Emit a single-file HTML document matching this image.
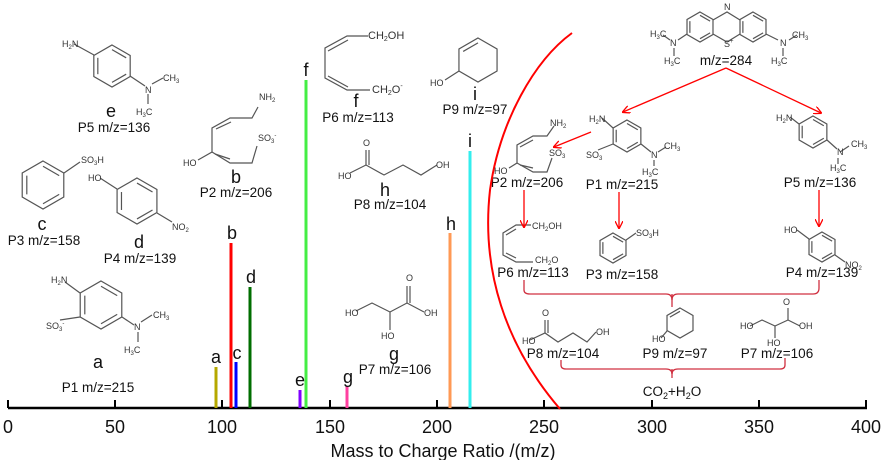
<!DOCTYPE html>
<html><head><meta charset="utf-8"><style>
html,body{margin:0;padding:0;background:#fff}
svg{display:block;font-family:"Liberation Sans",sans-serif}
.s{font-size:9px;fill:#333}
.l{font-size:13.5px;fill:#111}
.b{font-size:18px;fill:#111}
</style></head><body>
<svg width="883" height="460" viewBox="0 0 883 460" xmlns="http://www.w3.org/2000/svg">
<defs>
<g id="hx"><polygon points="0,-20 17.32,-10 17.32,10 0,20 -17.32,10 -17.32,-10" vector-effect="non-scaling-stroke"/>
<line x1="0" y1="-15.6" x2="13.5" y2="-7.8" vector-effect="non-scaling-stroke"/><line x1="13.5" y1="7.8" x2="0" y2="15.6" vector-effect="non-scaling-stroke"/><line x1="-13.5" y1="7.8" x2="-13.5" y2="-7.8" vector-effect="non-scaling-stroke"/></g>
<g id="cy"><polygon points="0,-20 17.32,-10 17.32,10 0,20 -17.32,10 -17.32,-10" vector-effect="non-scaling-stroke"/>
<line x1="0" y1="-15.6" x2="-13.5" y2="-7.8" vector-effect="non-scaling-stroke"/></g>
<marker id="ah" markerWidth="8" markerHeight="8" refX="7" refY="4" orient="auto" markerUnits="userSpaceOnUse"><path d="M0,0 L8,4 L0,8" fill="none" stroke="#f00" stroke-width="1.3"/></marker>
</defs>
<g stroke="#555" stroke-width="1.2" fill="none">
<use href="#hx" transform="translate(112,66) scale(1.05)"/>
<use href="#hx" transform="translate(43,185) scale(1.2)"/>
<use href="#hx" transform="translate(137,201) scale(1.15)"/>
<use href="#hx" transform="translate(101,305) scale(1.2)"/>
<use href="#cy" transform="translate(478,60) scale(1.1)"/>
<use href="#hx" transform="translate(700,27) scale(0.75)"/>
<use href="#hx" transform="translate(753,27) scale(0.75)"/>
<use href="#hx" transform="translate(627,136) scale(0.8)"/>
<use href="#hx" transform="translate(813,132) scale(0.8)"/>
<use href="#hx" transform="translate(613,248) scale(0.75)"/>
<use href="#hx" transform="translate(822,247) scale(0.75)"/>
<use href="#cy" transform="translate(680,323) scale(0.75)"/>
<polyline points="74,44 94,55"/><polyline points="130,76 145,86"/><polyline points="152,84 163,78"/><polyline points="148,94 148,104"/>
<polyline points="64,173 80,162"/>
<polyline points="100,178 117,189"/><polyline points="157,213 172,222"/>
<polyline points="65,282 80,293"/><polyline points="60,320 80,317"/><polyline points="122,317 134,325"/><polyline points="141,322 152,315"/><polyline points="138,332 138,342"/>
<polyline points="198,160 212,152 212,128 230,118 252,118 258,107"/><polyline points="212,152 230,163 252,163 257,146"/><polyline points="216,129 231,122"/><polyline points="215,154 230,159"/>
<polyline points="368,36 347,36 325,48 325,78 347,90 370,90"/><polyline points="348,40 328,51"/><polyline points="328,76 348,87"/>
<polyline points="445,80 459,71"/>
<polyline points="350,173 366,165 384,175 403,165 421,175 437,165"/><polyline points="366,165 366,150"/><polyline points="369,165 369,150"/>
<polyline points="356,311 372,303 390,312 407,303 424,312"/><polyline points="407,303 407,286"/><polyline points="410,303 410,286"/><polyline points="390,312 390,330"/>
<polyline points="713,20 727,12 740,20"/><polyline points="713,34 727,42 740,34"/><polyline points="678,40 687,34"/><polyline points="766,34 778,40"/><polyline points="663,35 670,40"/><polyline points="789,40 797,35"/><polyline points="674,48 674,56"/><polyline points="783,48 783,56"/>
<polyline points="602,118 613,128"/><polyline points="598,150 613,144"/><polyline points="641,144 651,152"/><polyline points="658,152 666,147"/><polyline points="654,160 654,166"/>
<polyline points="509,168 517,163 517,145 533,136 547,136 554,126"/><polyline points="517,163 533,172 547,172 552,158"/><polyline points="520,147 533,140"/><polyline points="520,165 533,168"/>
<polyline points="790,117 799,124"/><polyline points="827,140 837,149"/><polyline points="840,152 849,146"/><polyline points="838,158 838,164"/>
<polyline points="531,225 516,225 503,233 503,255 516,262 533,262"/><polyline points="516,229 506,235"/><polyline points="506,253 516,258"/>
<polyline points="626,240 636,233"/>
<polyline points="797,230 809,239"/><polyline points="835,255 845,262"/>
<polyline points="661,338 667,331"/>
<polyline points="530,340 545,333 558,342 573,333 587,342 596,332"/><polyline points="545,333 545,320"/><polyline points="548,333 548,320"/>
<polyline points="750,326 762,320 775,326 788,320 800,326"/><polyline points="788,320 788,308"/><polyline points="775,326 775,338"/>
</g>
<line x1="8" y1="408" x2="867" y2="408" stroke="#000" stroke-width="2.5"/>
<g stroke="#000" stroke-width="2">
<line x1="8" y1="400" x2="8" y2="408"/><line x1="115" y1="400" x2="115" y2="408"/><line x1="222" y1="400" x2="222" y2="408"/><line x1="330" y1="400" x2="330" y2="408"/><line x1="437" y1="400" x2="437" y2="408"/><line x1="544" y1="400" x2="544" y2="408"/><line x1="652" y1="400" x2="652" y2="408"/><line x1="759" y1="400" x2="759" y2="408"/><line x1="866" y1="400" x2="866" y2="408"/>
</g>
<g class="b" text-anchor="middle">
<text x="8" y="433">0</text><text x="115" y="433">50</text><text x="222" y="433">100</text><text x="330" y="433">150</text><text x="437" y="433">200</text><text x="544" y="433">250</text><text x="652" y="433">300</text><text x="759" y="433">350</text><text x="866" y="433">400</text>
<text x="443" y="457">Mass to Charge Ratio /(m/z)</text>
</g>
<g stroke-width="3">
<line x1="216" y1="367" x2="216" y2="408" stroke="#b5a800"/>
<line x1="231" y1="243" x2="231" y2="408" stroke="#f00"/>
<line x1="236" y1="362" x2="236" y2="408" stroke="#00f"/>
<line x1="250" y1="287" x2="250" y2="408" stroke="#006e00"/>
<line x1="300" y1="390" x2="300" y2="408" stroke="#8000ff"/>
<line x1="306" y1="80" x2="306" y2="408" stroke="#44ee44"/>
<line x1="347" y1="386" x2="347" y2="408" stroke="#ff40a0"/>
<line x1="450" y1="233" x2="450" y2="408" stroke="#ff9955"/>
<line x1="470" y1="151" x2="470" y2="408" stroke="#33eeee"/>
</g>
<g class="b" text-anchor="middle">
<text x="216" y="363">a</text><text x="232" y="239">b</text><text x="237" y="359">c</text><text x="251" y="283">d</text><text x="300" y="386">e</text><text x="306" y="76">f</text><text x="348" y="383">g</text><text x="451" y="230">h</text><text x="470" y="147">i</text>
<text x="111" y="117">e</text><text x="42" y="230">c</text><text x="139" y="248">d</text><text x="98" y="368">a</text><text x="236" y="183">b</text><text x="356" y="107">f</text><text x="475" y="100">i</text><text x="385" y="196">h</text><text x="394" y="360">g</text>
</g>
<g class="l" text-anchor="middle">
<text x="114" y="132">P5 m/z=136</text><text x="44" y="245">P3 m/z=158</text><text x="140" y="263">P4 m/z=139</text><text x="98" y="392">P1 m/z=215</text><text x="236" y="197">P2 m/z=206</text><text x="358" y="122">P6 m/z=113</text><text x="475" y="114">P9 m/z=97</text><text x="390" y="209">P8 m/z=104</text><text x="395" y="374">P7 m/z=106</text>
<text x="726" y="65">m/z=284</text><text x="622" y="189">P1 m/z=215</text><text x="527" y="187">P2 m/z=206</text><text x="820" y="187">P5 m/z=136</text><text x="533" y="277">P6 m/z=113</text><text x="622" y="279">P3 m/z=158</text><text x="822" y="277">P4 m/z=139</text><text x="563" y="358">P8 m/z=104</text><text x="675" y="358">P9 m/z=97</text><text x="777" y="358">P7 m/z=106</text>
<text x="672" y="396">CO<tspan font-size="9" dy="3">2</tspan><tspan dy="-3">+H</tspan><tspan font-size="9" dy="3">2</tspan><tspan dy="-3">O</tspan></text>
</g>
<path d="M572,33 C535,60 500,120 490,190 C481,270 505,345 560,409" stroke="#f00" stroke-width="2" fill="none"/>
<g stroke="#f00" stroke-width="1.3" fill="none" marker-end="url(#ah)">
<line x1="726" y1="68" x2="623" y2="112"/><line x1="726" y1="68" x2="821" y2="113"/>
<line x1="591" y1="132" x2="554" y2="147"/>
<line x1="524" y1="190" x2="524" y2="227"/><line x1="619" y1="192" x2="619" y2="228"/><line x1="819" y1="190" x2="819" y2="226"/>
</g>
<g stroke="#d03040" stroke-width="1.3" fill="none">
<path d="M524,280 L524,290 Q524,294 530,294 L666,294 Q672,294 672,300 Q672,294 678,294 L813,294 Q819,294 819,288 L819,280"/>
<line x1="672" y1="294" x2="672" y2="307"/>
<path d="M561,360 L561,365 Q561,369 566,369 L666,369 Q672,369 672,374 Q672,369 678,369 L780,369 Q785,369 785,365 L785,358"/>
<line x1="672" y1="369" x2="672" y2="378"/>
</g>
<g class="s">
<text x="62" y="47">H<tspan font-size="6" dy="2">2</tspan><tspan dy="-2">N</tspan></text><text x="145" y="93">N</text><text x="163" y="81">CH<tspan font-size="6" dy="2">3</tspan></text><text x="136" y="115">H<tspan font-size="6" dy="2">3</tspan><tspan dy="-2">C</tspan></text>
<text x="81" y="163">SO<tspan font-size="6" dy="2">3</tspan><tspan dy="-2">H</tspan></text>
<text x="88" y="181">HO</text><text x="172" y="230">NO<tspan font-size="6" dy="2">2</tspan></text>
<text x="51" y="283">H<tspan font-size="6" dy="2">2</tspan><tspan dy="-2">N</tspan></text><text x="46" y="329">SO<tspan font-size="6" dy="2">3</tspan><tspan font-size="6" dy="-6">-</tspan></text><text x="134" y="330">N</text><text x="153" y="318">CH<tspan font-size="6" dy="2">3</tspan></text><text x="124" y="353">H<tspan font-size="6" dy="2">3</tspan><tspan dy="-2">C</tspan></text>
<text x="259" y="100">NH<tspan font-size="6" dy="2">2</tspan></text><text x="258" y="141">SO<tspan font-size="6" dy="2">3</tspan><tspan font-size="6" dy="-6">-</tspan></text><text x="183" y="166">HO</text>
<text x="368" y="39" font-size="11">CH<tspan font-size="7" dy="2">2</tspan><tspan dy="-2">OH</tspan></text><text x="372" y="93" font-size="11">CH<tspan font-size="7" dy="2">2</tspan><tspan dy="-2">O</tspan><tspan font-size="7" dy="-5">-</tspan></text>
<text x="430" y="86">HO</text>
<text x="363" y="146">O</text><text x="338" y="179">HO</text><text x="436" y="168">OH</text>
<text x="345" y="316">HO</text><text x="406" y="281">O</text><text x="424" y="316">OH</text><text x="381" y="339">HO</text>
<text x="724" y="10">N</text><text x="724" y="47">S<tspan font-size="6" dy="-4">+</tspan></text><text x="650" y="37">H<tspan font-size="6" dy="2">3</tspan><tspan dy="-2">C</tspan></text><text x="670" y="46">N</text><text x="664" y="64">H<tspan font-size="6" dy="2">3</tspan><tspan dy="-2">C</tspan></text><text x="780" y="46">N</text><text x="792" y="38">CH<tspan font-size="6" dy="2">3</tspan></text><text x="771" y="64">H<tspan font-size="6" dy="2">3</tspan><tspan dy="-2">C</tspan></text>
<text x="589" y="122">H<tspan font-size="6" dy="2">2</tspan><tspan dy="-2">N</tspan></text><text x="586" y="158">SO<tspan font-size="6" dy="2">3</tspan></text><text x="651" y="158">N</text><text x="664" y="149">CH<tspan font-size="6" dy="2">3</tspan></text><text x="642" y="175">H<tspan font-size="6" dy="2">3</tspan><tspan dy="-2">C</tspan></text>
<text x="550" y="126">NH<tspan font-size="6" dy="2">2</tspan></text><text x="549" y="156">SO<tspan font-size="6" dy="2">3</tspan></text><text x="494" y="174">HO</text>
<text x="776" y="121">H<tspan font-size="6" dy="2">2</tspan><tspan dy="-2">N</tspan></text><text x="837" y="155">N</text><text x="851" y="147">CH<tspan font-size="6" dy="2">3</tspan></text><text x="830" y="171">H<tspan font-size="6" dy="2">3</tspan><tspan dy="-2">C</tspan></text>
<text x="532" y="229">CH<tspan font-size="6" dy="2">2</tspan><tspan dy="-2">OH</tspan></text><text x="535" y="263">CH<tspan font-size="6" dy="2">2</tspan><tspan dy="-2">O</tspan></text>
<text x="636" y="236">SO<tspan font-size="6" dy="2">3</tspan><tspan dy="-2">H</tspan></text>
<text x="784" y="233">HO</text><text x="845" y="268">NO<tspan font-size="6" dy="2">2</tspan></text>
<text x="652" y="342">HO</text>
<text x="542" y="316">O</text><text x="522" y="344">HO</text><text x="596" y="335">OH</text>
<text x="783" y="305">O</text><text x="740" y="329">HO</text><text x="799" y="329">OH</text><text x="767" y="346">HO</text>
</g>
</svg>
</body></html>
